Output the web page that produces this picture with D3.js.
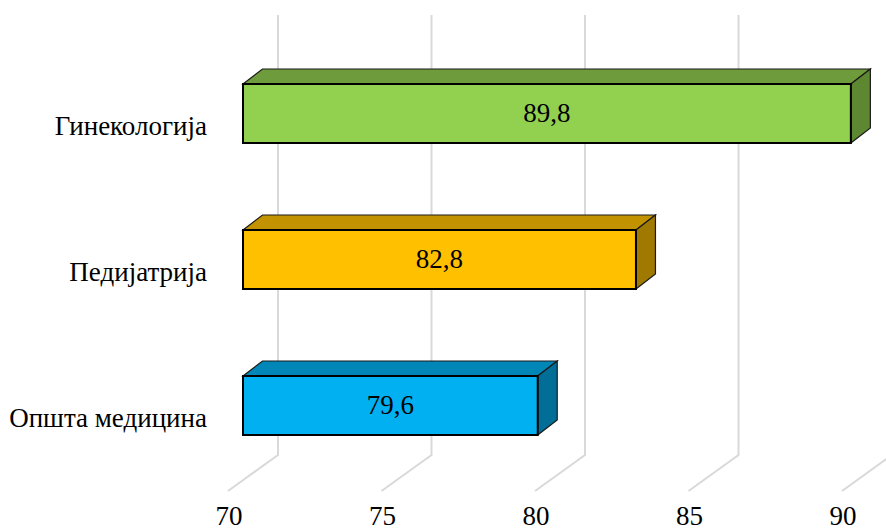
<!DOCTYPE html>
<html>
<head>
<meta charset="utf-8">
<script src="https://cdn.jsdelivr.net/npm/d3@7"></script>
<style>
  body { margin: 0; background: #fff; }
  svg text { font-family: serif; fill: #000; }
</style>
</head>
<body>
<svg id="chart" width="886" height="531"></svg>
<script>
var categories = ["Гинекологија", "Педијатрија", "Општа медицина"];
var values = [89.8, 82.8, 79.6];
var valueLabels = ["89,8", "82,8", "79,6"];
var ticks = [70, 75, 80, 85, 90];
var frontColors = ["#92D050", "#FFC000", "#00B0F0"];
var topColors = ["#6E9B3C", "#C29200", "#0087B8"];
var sideColors = ["#5D8731", "#A07A00", "#006E96"];

var svg = d3.select("#chart");

var x = d3.scaleLinear().domain([70, 90]).range([243, 857]);
var y = d3.scalePoint().domain(categories).range([113.5, 405.5]);

var barH = 59, dx = 19.5, dy = -15;
var wallTop = 15, wallBottom = 455, floorFront = 491;

// perspective gridlines (back wall + floor)
var grid = svg.append("g");
ticks.forEach(function(t) {
    var xb = x(t) + 35, xf = x(t) - 15;
    grid.append("path")
        .attr("d", "M" + xb + "," + wallTop + "L" + xb + "," + wallBottom + "L" + xf + "," + floorFront)
        .attr("fill", "none")
        .attr("stroke", "#D9D9D9")
        .attr("stroke-width", 2);
    svg.append("text")
        .attr("x", xf + 1)
        .attr("y", 525)
        .attr("text-anchor", "middle")
        .style("font-size", "27px")
        .text(t);
});

// 3D bars
var bars = svg.selectAll(".bar")
    .data(values)
    .enter().append("g")
    .attr("class", "bar");

bars.each(function(v, i) {
    var g = d3.select(this);
    var x0 = x(70), x1 = x(v);
    var yt = y(categories[i]) - barH / 2, yb = yt + barH;
    g.append("path")
        .attr("d", "M" + x0 + "," + yt + "L" + (x0 + dx) + "," + (yt + dy) + "L" + (x1 + dx) + "," + (yt + dy) + "L" + x1 + "," + yt + "Z")
        .attr("fill", topColors[i])
        .attr("stroke", "#1a1a1a")
        .attr("stroke-width", 1.2);
    g.append("path")
        .attr("d", "M" + x1 + "," + yt + "L" + (x1 + dx) + "," + (yt + dy) + "L" + (x1 + dx) + "," + (yb + dy) + "L" + x1 + "," + yb + "Z")
        .attr("fill", sideColors[i])
        .attr("stroke", "#1a1a1a")
        .attr("stroke-width", 1.2);
    g.append("rect")
        .attr("x", x0)
        .attr("y", yt)
        .attr("width", x1 - x0)
        .attr("height", barH)
        .attr("fill", frontColors[i])
        .attr("stroke", "#000")
        .attr("stroke-width", 2);
    g.append("text")
        .attr("x", (x0 + x1) / 2)
        .attr("y", yt + barH / 2 + 8.5)
        .attr("text-anchor", "middle")
        .style("font-size", "27px")
        .text(valueLabels[i]);
});

// category labels
svg.selectAll(".cat")
    .data(categories)
    .enter().append("text")
    .attr("class", "cat")
    .attr("x", 207)
    .attr("y", function(d) { return y(d) + 21; })
    .attr("text-anchor", "end")
    .style("font-size", "27px")
    .text(function(d) { return d; });
</script>
</body>
</html>
